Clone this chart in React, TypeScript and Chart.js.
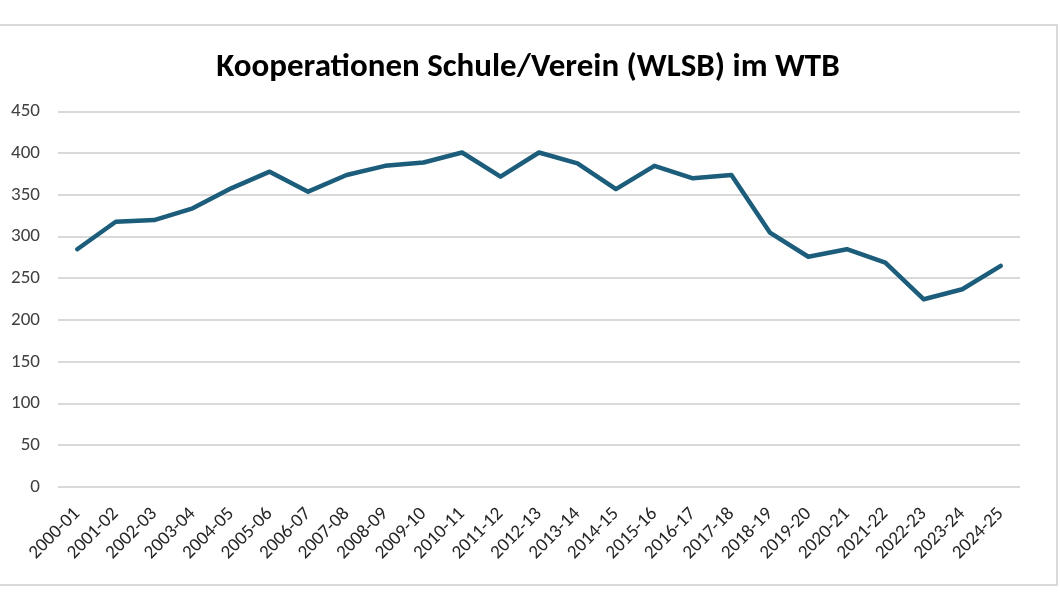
import React, { useEffect, useRef } from "react";
import { Chart, registerables } from "chart.js";

Chart.register(...registerables);

const categories = [
  "2000-01", "2001-02", "2002-03", "2003-04", "2004-05", "2005-06", "2006-07",
  "2007-08", "2008-09", "2009-10", "2010-11", "2011-12", "2012-13", "2013-14",
  "2014-15", "2015-16", "2016-17", "2017-18", "2018-19", "2019-20", "2020-21",
  "2021-22", "2022-23", "2023-24", "2024-25",
];
const kooperationen = [
  285, 318, 320, 334, 358, 378, 354, 374, 385, 389, 401, 372, 401, 388,
  357, 385, 370, 374, 305, 276, 285, 269, 225, 237, 265,
];
const yTicks = [0, 50, 100, 150, 200, 250, 300, 350, 400, 450];
const title = "Kooperationen Schule/Verein (WLSB) im WTB";

const FONT = "Carlito, Calibri, Lato, 'Open Sans', sans-serif";

export default function App() {
  const ref = useRef<HTMLCanvasElement | null>(null);
  useEffect(() => {
    if (!ref.current) return;
    const chart = new Chart(ref.current, {
      type: "line",
      data: {
        labels: categories,
        datasets: [
          {
            label: "Kooperationen",
            data: kooperationen,
            borderColor: "#1b5d7a",
            backgroundColor: "#1b5d7a",
            borderWidth: 4.5,
            pointRadius: 0,
            tension: 0,
            borderCapStyle: "round",
            borderJoinStyle: "round",
          },
        ],
      },
      options: {
        animation: false,
        responsive: false,
        maintainAspectRatio: false,
        layout: { padding: { left: 0, right: 0, top: 0, bottom: 0 } },
        plugins: {
          legend: { display: false },
          tooltip: { enabled: false },
          title: {
            display: true,
            text: title,
            color: "#000000",
            font: { family: FONT, size: 33, weight: "bold", lineHeight: 1.2 },
            padding: { top: 22, bottom: 24 },
          },
        },
        scales: {
          x: {
            offset: true,
            grid: { display: false },
            border: { display: false },
            ticks: {
              color: "#262626",
              font: { family: FONT, size: 19 },
              minRotation: 45,
              maxRotation: 45,
              autoSkip: false,
              padding: 8,
            },
            afterFit: (s: any) => {
              s.height = 97;
            },
          },
          y: {
            min: 0,
            max: 450,
            afterBuildTicks: (s: any) => {
              s.ticks = yTicks.map((v) => ({ value: v }));
            },
            grid: { color: "#d9d9d9", lineWidth: 2, drawTicks: false },
            border: { display: false },
            ticks: {
              color: "#404040",
              font: { family: FONT, size: 19 },
              padding: 18,
            },
            afterFit: (s: any) => {
              s.width = 58;
            },
          },
          yRight: {
            position: "right",
            min: 0,
            max: 450,
            grid: { display: false, drawTicks: false },
            border: { display: false },
            ticks: { display: false },
            afterFit: (s: any) => {
              s.width = 36;
            },
          },
        },
      },
    });
    return () => chart.destroy();
  }, []);

  return (
    <div style={{ position: "fixed", left: 0, top: 0, width: 1060, height: 600, background: "#fff" }}>
      <div
        style={{
          position: "absolute",
          left: -2,
          top: 24,
          width: 1056,
          height: 558,
          border: "2px solid #d9d9d9",
        }}
      >
        <canvas ref={ref} width={1056} height={558} style={{ display: "block" }} />
      </div>
    </div>
  );
}
